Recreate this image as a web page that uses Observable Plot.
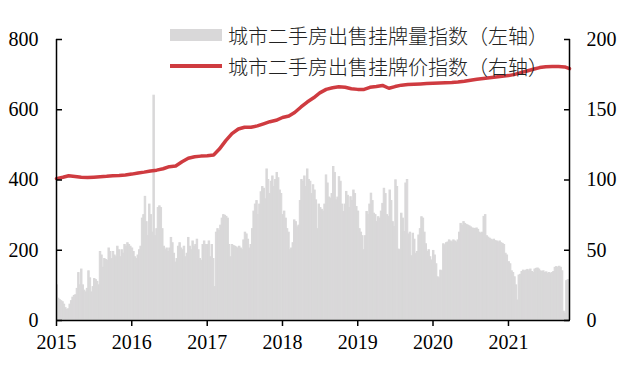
<!DOCTYPE html>
<html><head><meta charset="utf-8">
<script src="https://cdn.jsdelivr.net/npm/d3@7"></script>
<script src="https://cdn.jsdelivr.net/npm/@observablehq/plot@0.6"></script>
<style>
body{margin:0;background:#fff;}
#wrap{position:relative;width:622px;height:368px;}
.lg{position:absolute;left:170px;height:20px;display:flex;align-items:center;font-family:"Noto Sans CJK SC","Noto Sans",sans-serif;font-weight:300;font-size:20px;color:#222;white-space:nowrap;}
.sw{width:52px;margin-right:6px;}
</style></head><body>
<div id="wrap"></div>
<script>
// Weekly listing volume index (left axis), one array per year, weeks from Jan 1
const listing2015 = [100,62,58,55,52,45,35,30,32,45,55,65,70,72,90,135,100,145,100,85,80,90,140,120,80,95,118,115,110,100,195,185,150,175,172,170,205,195,175,195,185,180,210,200,180,200,190,215,210,220,215,210];
const listing2016 = [205,195,180,175,185,200,210,290,300,352,280,240,330,300,250,640,240,260,320,325,320,260,210,200,205,195,205,235,220,190,165,175,210,220,205,200,210,180,190,235,210,200,225,210,215,230,200,175,170,215,225,215];
const listing2017 = [215,225,180,215,175,95,250,260,255,270,290,300,298,295,290,215,180,215,212,210,208,205,210,205,200,228,250,245,230,205,215,260,310,330,340,300,330,365,380,375,345,430,400,360,395,410,380,400,420,405,370,360];
const listing2018 = [300,310,290,260,250,200,205,220,285,280,265,270,340,400,395,410,380,430,400,395,360,385,370,342,260,330,320,315,310,330,413,390,350,347,360,437,420,342,350,408,395,330,309,330,366,355,320,351,340,370,360,323];
const listing2019 = [310,260,250,240,200,240,309,300,330,361,340,304,300,280,294,290,310,332,375,360,300,295,370,340,280,266,399,380,202,200,304,290,252,390,400,245,250,183,247,230,190,195,242,260,294,290,250,217,195,200,180,171];
const listing2020 = [198,185,160,123,120,142,140,217,214,220,222,228,225,222,228,225,222,228,250,275,270,280,275,272,270,268,265,262,261,260,262,258,250,247,250,295,300,240,236,233,230,228,230,226,225,222,225,220,218,215,190,185];
const listing2021 = [166,160,140,135,123,100,57,128,130,138,142,140,142,144,140,145,138,135,145,147,148,145,140,138,140,135,137,133,135,133,135,138,150,152,150,153,150,140,25,19,112,115,110];
const listingByYear = [[2015, listing2015],[2016, listing2016],[2017, listing2017],[2018, listing2018],[2019, listing2019],[2020, listing2020],[2021, listing2021]];

// Monthly listing price index (right axis)
const price2015 = [101,102,103,102.5,102,101.8,102,102.3,102.6,103,103.2,103.6];
const price2016 = [104.2,105,105.6,106.4,107,108,109.5,110,113,115.5,116.5,117];
const price2017 = [117.3,117.8,122,128,133,136.3,137.5,137.5,138.5,140,141.5,142.5];
const price2018 = [144.5,145.5,148,152,155.5,158.5,162,164.5,165.7,166.3,166,165];
const price2019 = [164.5,164.5,166,166.6,167.3,165.3,166.5,167.5,168,168.2,168.4,168.6];
const price2020 = [168.8,169,169.2,169.4,169.7,170.3,171,171.7,172.3,172.8,173.3,173.8];
const price2021 = [174.3,175.2,176.4,177.6,178.8,180,180.6,180.8,180.8,180.5];
const priceLast = {date: "2021-10-24", value: 179.3};
const priceByYear = [[2015, price2015],[2016, price2016],[2017, price2017],[2018, price2018],[2019, price2019],[2020, price2020],[2021, price2021]];

const leftTicks = [0, 200, 400, 600, 800];
const rightTicks = [0, 50, 100, 150, 200];
const xStart = new Date("2015-01-01");
const xEnd = new Date(priceLast.date);
const yearTicks = d3.utcYear.range(new Date("2015-01-01"), new Date("2022-01-01"));
const legendLabels = ["城市二手房出售挂牌量指数（左轴）", "城市二手房出售挂牌价指数（右轴）"];

const bars = listingByYear.flatMap(([yr, vals]) => vals.map((v, i) => ({
  x1: new Date(Date.UTC(yr, 0, 1 + 7 * i)),
  x2: new Date(Date.UTC(yr, 0, 8 + 7 * i)),
  value: v
})));
const priceData = priceByYear.flatMap(([yr, vals]) => vals.map((v, i) => ({date: new Date(Date.UTC(yr, i, 1)), value: v})))
  .concat([{date: new Date(priceLast.date), value: priceLast.value}]);

const k = leftTicks[leftTicks.length - 1] / rightTicks[rightTicks.length - 1];
const gray = "#d9d8d9", red = "#cf3b40";

const chart = Plot.plot({
  width: 622, height: 368,
  marginLeft: 56, marginRight: 53, marginTop: 39, marginBottom: 48,
  style: {fontFamily: '"Liberation Serif","Times New Roman",serif', fontSize: "20px", color: "#000", background: "#fff"},
  x: {type: "utc", domain: [xStart, xEnd]},
  y: {domain: [0, 800]},
  marks: [
    Plot.rectY(bars, {x1: "x1", x2: "x2", y: "value", fill: gray, stroke: gray, strokeWidth: 1, clip: true}),
    Plot.line(priceData, {x: "date", y: d => d.value * k, stroke: red, strokeWidth: 3.5}),
    Plot.ruleX([xStart], {stroke: "#000", strokeWidth: 1.5}),
    Plot.ruleX([xEnd], {stroke: "#000", strokeWidth: 1.5}),
    Plot.ruleY([0], {stroke: "#000", strokeWidth: 1.5}),
    Plot.axisX({ticks: yearTicks, tickFormat: d3.utcFormat("%Y"), tickSize: 6, tickPadding: 8, strokeWidth: 1.5, label: null}),
    Plot.axisY({anchor: "left", ticks: leftTicks, tickSize: 0, tickPadding: 18, label: null}),
    Plot.axisY({anchor: "left", ticks: leftTicks, tickSize: -6, text: null, strokeWidth: 1.5, label: null}),
    Plot.axisY({anchor: "right", ticks: rightTicks.map(d => d * k), tickFormat: d => d / k, tickSize: 0, tickPadding: 17, label: null}),
    Plot.axisY({anchor: "right", ticks: rightTicks.map(d => d * k), tickSize: -6, text: null, strokeWidth: 1.5, label: null})
  ]
});
const wrap = document.getElementById("wrap");
wrap.appendChild(chart);
const l1 = document.createElement("div");
l1.className = "lg"; l1.style.top = "25px";
l1.innerHTML = `<span class="sw" style="height:12px;background:${gray}"></span><span>${legendLabels[0]}</span>`;
const l2 = document.createElement("div");
l2.className = "lg"; l2.style.top = "56px";
l2.innerHTML = `<span class="sw" style="height:4px;background:${red}"></span><span>${legendLabels[1]}</span>`;
wrap.appendChild(l1); wrap.appendChild(l2);
</script>
</body></html>
